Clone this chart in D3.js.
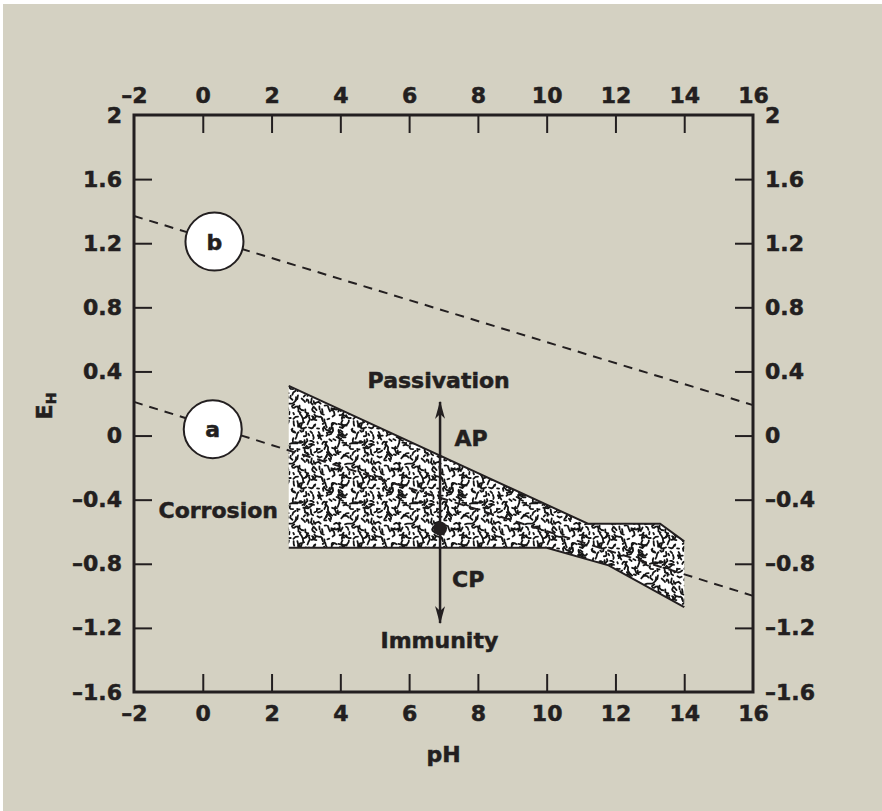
<!DOCTYPE html>
<html>
<head>
<meta charset="utf-8">
<script src="https://cdn.jsdelivr.net/npm/d3@7"></script>
<style>
  body { margin: 0; background: #fff; }
  svg { display: block; }
  text { font-family: "DejaVu Sans", sans-serif; font-weight: bold; fill: #231f20; stroke: #231f20; stroke-width: 0.5px; }
</style>
</head>
<body>
<div id="chart"></div>
<script>
// axis ticks
var phTicks = [-2, 0, 2, 4, 6, 8, 10, 12, 14, 16];
var ehTicks = [2, 1.6, 1.2, 0.8, 0.4, 0, -0.4, -0.8, -1.2, -1.6];

// dashed water-stability lines (pH, EH)
var lineA = [[-2, 0.21], [16, -1.0]];
var lineB = [[-2, 1.37], [16, 0.19]];

// shaded band: upper and lower boundary
var zoneTop = [[2.5, 0.31], [11.2, -0.55], [13.3, -0.55], [14, -0.66]];
var zoneBottom = [[2.5, -0.70], [10, -0.70], [11.8, -0.81], [14, -1.07]];

// circled line labels
var markers = [
    {label: "b", ph: 0.34, eh: 1.21},
    {label: "a", ph: 0.29, eh: 0.04}
];

// vertical arrow and operating point
var arrowPh = 6.9, arrowTop = 0.21, arrowBottom = -1.17, pointEh = -0.58;

// text annotations
var notes = [
    {text: "Passivation", ph: 6.86, eh: 0.297, anchor: "middle"},
    {text: "AP", ph: 7.32, eh: -0.065, anchor: "start"},
    {text: "CP", ph: 7.25, eh: -0.943, anchor: "start"},
    {text: "Corrosion", ph: 0.45, eh: -0.514, anchor: "middle"},
    {text: "Immunity", ph: 6.88, eh: -1.323, anchor: "middle"}
];

var width = 882, height = 811;
var ink = "#231f20";

var svg = d3.select("#chart").append("svg")
    .attr("width", width)
    .attr("height", height);

svg.append("rect")
    .attr("x", 3).attr("y", 4)
    .attr("width", width - 3).attr("height", height - 4)
    .attr("fill", "#d4d1c2");

var x = d3.scaleLinear().domain([-2, 16]).range([134, 753]);
var y = d3.scaleLinear().domain([-1.6, 2]).range([692, 115]);

// stipple texture: jittered grid of short squiggles (deterministic)
var tile = 60, cell = 5;
var defs = svg.append("defs");
var pat = defs.append("pattern")
    .attr("id", "stipple")
    .attr("patternUnits", "userSpaceOnUse")
    .attr("width", tile).attr("height", tile);
pat.append("rect").attr("width", tile).attr("height", tile).attr("fill", "#fff");
var seed = 98765;
function rnd() {
    seed = (seed * 1103515245 + 12345) % 2147483648;
    return seed / 2147483648;
}
var squiggles = [];
for (var gx = 0; gx < tile; gx += cell) {
    for (var gy = 0; gy < tile; gy += cell) {
        var px = gx + rnd() * cell, py = gy + rnd() * cell;
        var pts = [[px, py]];
        var n = 1 + Math.floor(rnd() * 3);
        var a = rnd() * Math.PI * 2;
        for (var k = 0; k < n; k++) {
            a += (rnd() - 0.5) * 2.4;
            var len = 1.4 + rnd() * 1.8;
            px += Math.cos(a) * len; py += Math.sin(a) * len;
            pts.push([px, py]);
        }
        squiggles.push(pts);
    }
}
var wrapLine = d3.line();
squiggles.forEach(function (pts) {
    [-tile, 0, tile].forEach(function (ox) {
        [-tile, 0, tile].forEach(function (oy) {
            pat.append("path")
                .attr("d", wrapLine(pts.map(function (p) { return [p[0] + ox, p[1] + oy]; })))
                .attr("fill", "none")
                .attr("stroke", "#151515")
                .attr("stroke-width", 1.8)
                .attr("stroke-linecap", "round")
                .attr("stroke-linejoin", "round");
        });
    });
});

var line = d3.line().x(function (d) { return x(d[0]); }).y(function (d) { return y(d[1]); });

// band
var band = zoneTop.concat(zoneBottom.slice().reverse());
svg.append("path")
    .attr("d", line(band) + "Z")
    .attr("fill", "url(#stipple)");
[zoneTop, zoneBottom].forEach(function (edge) {
    svg.append("path")
        .attr("d", line(edge))
        .attr("fill", "none")
        .attr("stroke", ink)
        .attr("stroke-width", 2);
});

// dashed lines
[lineA, lineB].forEach(function (l) {
    svg.append("path")
        .attr("d", line(l))
        .attr("fill", "none")
        .attr("stroke", ink)
        .attr("stroke-width", 2)
        .attr("stroke-dasharray", "9,7");
});

// circles
var mk = svg.selectAll(".marker").data(markers).enter().append("g")
    .attr("transform", function (d) { return "translate(" + x(d.ph) + "," + y(d.eh) + ")"; });
mk.append("circle").attr("r", 29).attr("fill", "#fff").attr("stroke", ink).attr("stroke-width", 2);
mk.append("text").attr("text-anchor", "middle").attr("dy", "0.36em")
    .style("font-size", "22px").text(function (d) { return d.label; });

// arrow
defs.append("marker")
    .attr("id", "head")
    .attr("viewBox", "0 0 18 10")
    .attr("refX", 17).attr("refY", 5)
    .attr("markerWidth", 18).attr("markerHeight", 10)
    .attr("markerUnits", "userSpaceOnUse")
    .attr("orient", "auto-start-reverse")
    .append("path")
    .attr("d", "M0,0 L18,5 L0,10 L5,5 Z")
    .attr("fill", ink);

svg.append("line")
    .attr("x1", x(arrowPh)).attr("x2", x(arrowPh))
    .attr("y1", y(arrowTop)).attr("y2", y(arrowBottom))
    .attr("stroke", ink).attr("stroke-width", 2.5)
    .attr("marker-start", "url(#head)")
    .attr("marker-end", "url(#head)");

svg.append("circle")
    .attr("cx", x(arrowPh)).attr("cy", y(pointEh))
    .attr("r", 7).attr("fill", ink);

// axes
var fmt = function (d) { return d < 0 ? "\u2013" + Math.abs(d) : String(d); };
function tickStyle(ends) {
    return function (g) {
        g.select(".domain").remove();
        g.selectAll(".tick line").attr("stroke", ink).attr("stroke-width", 2);
        g.selectAll(".tick").filter(function (d) { return ends.indexOf(d) >= 0; })
            .select("line").remove();
        g.selectAll(".tick text").attr("fill", ink)
            .style("font-family", "'DejaVu Sans', sans-serif")
            .style("font-weight", "bold")
            .style("font-size", "22px");
    };
}
var phEnds = [-2, 16], ehEnds = [2, -1.6];

svg.append("g").attr("transform", "translate(0," + y(2) + ")")
    .call(d3.axisTop(x).tickValues(phTicks).tickFormat(fmt).tickSizeInner(-18).tickSizeOuter(0).tickPadding(12))
    .call(tickStyle(phEnds));
svg.append("g").attr("transform", "translate(0," + y(-1.6) + ")")
    .call(d3.axisBottom(x).tickValues(phTicks).tickFormat(fmt).tickSizeInner(-18).tickSizeOuter(0).tickPadding(13))
    .call(tickStyle(phEnds));
svg.append("g").attr("transform", "translate(" + x(-2) + ",0)")
    .call(d3.axisLeft(y).tickValues(ehTicks).tickFormat(fmt).tickSizeInner(-18).tickSizeOuter(0).tickPadding(12))
    .call(tickStyle(ehEnds));
svg.append("g").attr("transform", "translate(" + x(16) + ",0)")
    .call(d3.axisRight(y).tickValues(ehTicks).tickFormat(fmt).tickSizeInner(-18).tickSizeOuter(0).tickPadding(12))
    .call(tickStyle(ehEnds));

// frame
svg.append("rect")
    .attr("x", x(-2)).attr("y", y(2))
    .attr("width", x(16) - x(-2)).attr("height", y(-1.6) - y(2))
    .attr("fill", "none").attr("stroke", ink).attr("stroke-width", 3);

// annotations
svg.selectAll(".note").data(notes).enter().append("text")
    .attr("x", function (d) { return x(d.ph); })
    .attr("y", function (d) { return y(d.eh); })
    .attr("text-anchor", function (d) { return d.anchor; })
    .style("font-size", "22px")
    .text(function (d) { return d.text; });

// axis titles
svg.append("text")
    .attr("x", x(7)).attr("y", 762)
    .attr("text-anchor", "middle")
    .style("font-size", "22px")
    .text("pH");

var eh = svg.append("text")
    .attr("transform", "translate(52,406) rotate(-90)")
    .attr("text-anchor", "middle")
    .style("font-size", "22px");
eh.append("tspan").text("E");
eh.append("tspan").attr("dy", 4).style("font-size", "14px").text("H");
</script>
</body>
</html>
